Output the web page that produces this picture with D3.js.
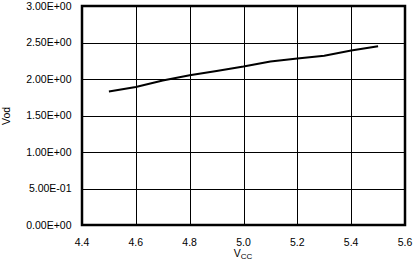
<!DOCTYPE html>
<html>
<head>
<meta charset="utf-8">
<script src="https://cdn.jsdelivr.net/npm/d3@7"></script>
<style>
  body { margin: 0; background: #fff; }
  text { font-family: "Liberation Sans", Arial, sans-serif; fill: #000; }
</style>
</head>
<body>
<script>
var vcc = [4.5, 4.6, 4.7, 4.8, 4.9, 5.0, 5.1, 5.2, 5.3, 5.4, 5.5];
var vod = [1.83, 1.89, 1.98, 2.05, 2.11, 2.17, 2.24, 2.28, 2.32, 2.39, 2.45];
var xTicks = [4.4, 4.6, 4.8, 5.0, 5.2, 5.4, 5.6];
var yTicks = [0, 0.5, 1.0, 1.5, 2.0, 2.5, 3.0];
var yLabels = ["0.00E+00", "5.00E-01", "1.00E+00", "1.50E+00", "2.00E+00", "2.50E+00", "3.00E+00"];

var width = 419, height = 268;
// plot box (window.top is reserved, so use other names)
var plotL = 82, plotR = 405, plotT = 6, plotB = 225;

var svg = d3.select("body").append("svg")
  .attr("width", width)
  .attr("height", height);

var x = d3.scaleLinear().domain([4.4, 5.6]).range([plotL, plotR]);
var y = d3.scaleLinear().domain([0, 3]).range([plotB, plotT]);

// grid
svg.append("g")
  .attr("transform", "translate(0," + plotB + ")")
  .call(d3.axisBottom(x).tickValues(xTicks).tickSize(-(plotB - plotT)).tickFormat(""))
  .call(function(g) {
    g.select(".domain").remove();
    g.selectAll("line").attr("stroke", "#000").attr("stroke-width", 1).attr("shape-rendering", "crispEdges");
  });
svg.append("g")
  .attr("transform", "translate(" + plotL + ",0)")
  .call(d3.axisLeft(y).tickValues(yTicks).tickSize(-(plotR - plotL)).tickFormat(""))
  .call(function(g) {
    g.select(".domain").remove();
    g.selectAll("line").attr("stroke", "#000").attr("stroke-width", 1).attr("shape-rendering", "crispEdges");
  });

// tick labels
svg.selectAll(".ylab").data(yTicks).enter().append("text")
  .attr("x", 71.5)
  .attr("y", function(d) { return y(d) + 3.8; })
  .attr("text-anchor", "end")
  .style("font-size", "10.5px")
  .text(function(d, i) { return yLabels[i]; });

svg.selectAll(".xlab").data(xTicks).enter().append("text")
  .attr("x", function(d) { return x(d); })
  .attr("y", 246)
  .attr("text-anchor", "middle")
  .style("font-size", "10.5px")
  .text(function(d) { return d.toFixed(1); });

// frame
svg.append("rect")
  .attr("x", plotL).attr("y", plotT)
  .attr("width", plotR - plotL).attr("height", plotB - plotT)
  .attr("fill", "none").attr("stroke", "#000").attr("stroke-width", 2.5);

// data line
var line = d3.line()
  .x(function(d, i) { return x(vcc[i]); })
  .y(function(d) { return y(d); });
svg.append("path")
  .datum(vod)
  .attr("d", line)
  .attr("fill", "none")
  .attr("stroke", "#000")
  .attr("stroke-width", 2);

// axis titles
svg.append("text")
  .attr("transform", "translate(9.5,116) rotate(-90)")
  .attr("text-anchor", "middle")
  .style("font-size", "10.5px")
  .text("Vod");

var xt = svg.append("text")
  .attr("x", 243)
  .attr("y", 257)
  .attr("text-anchor", "middle")
  .style("font-size", "10.5px");
xt.append("tspan").text("V");
xt.append("tspan").attr("dy", 2).style("font-size", "8px").text("CC");
</script>
</body>
</html>
